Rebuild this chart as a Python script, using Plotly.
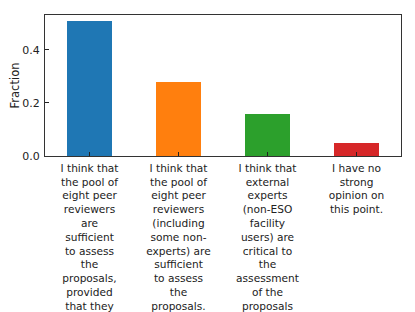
import plotly.graph_objects as go

categories = [
    "I think that<br>the pool of<br>eight peer<br>reviewers<br>are<br>sufficient<br>to assess<br>the<br>proposals,<br>provided<br>that they<br>have some<br>expertise",
    "I think that<br>the pool of<br>eight peer<br>reviewers<br>(including<br>some non-<br>experts) are<br>sufficient<br>to assess<br>the<br>proposals.",
    "I think that<br>external<br>experts<br>(non-ESO<br>facility<br>users) are<br>critical to<br>the<br>assessment<br>of the<br>proposals",
    "I have no<br>strong<br>opinion on<br>this point.",
]
fractions = [0.51, 0.28, 0.16, 0.05]
colors = ["#1f77b4", "#ff7f0e", "#2ca02c", "#d62728"]
ytick_vals = [0.0, 0.2, 0.4]
ytick_text = ["0.0", "0.2", "0.4"]

fig = go.Figure(go.Bar(
    x=list(range(len(categories))),
    y=fractions,
    width=0.5,
    marker=dict(color=colors, line=dict(width=0)),
))

fig.update_layout(
    width=415, height=312,
    margin=dict(l=37, r=22, t=7, b=164),
    plot_bgcolor="white", paper_bgcolor="white",
    font=dict(family="DejaVu Sans", size=10.5, color="#222"),
    showlegend=False,
    bargap=0,
)
fig.update_xaxes(
    range=[-0.5, 3.5],
    tickvals=list(range(len(categories))),
    ticktext=categories,
    ticks="inside", ticklen=4, tickcolor="#222",
    showline=True, linecolor="#333", linewidth=1.2, mirror=True,
    showgrid=False, zeroline=False, automargin=False,
    tickangle=0, ticklabelstandoff=2,
    tickfont=dict(family="DejaVu Sans", size=10.6, color="#222"),
)
fig.update_yaxes(
    range=[0, 0.532],
    tickvals=ytick_vals, ticktext=ytick_text,
    ticks="inside", ticklen=4, tickcolor="#222",
    showline=True, linecolor="#333", linewidth=1.2, mirror=True,
    showgrid=False, zeroline=False, automargin=False,
    ticklabelstandoff=2,
    title=dict(text="Fraction", standoff=6, font=dict(family="DejaVu Sans", size=11.5, color="#222")),
    tickfont=dict(family="DejaVu Sans", size=11, color="#222"),
)
fig.write_html("out.html")
